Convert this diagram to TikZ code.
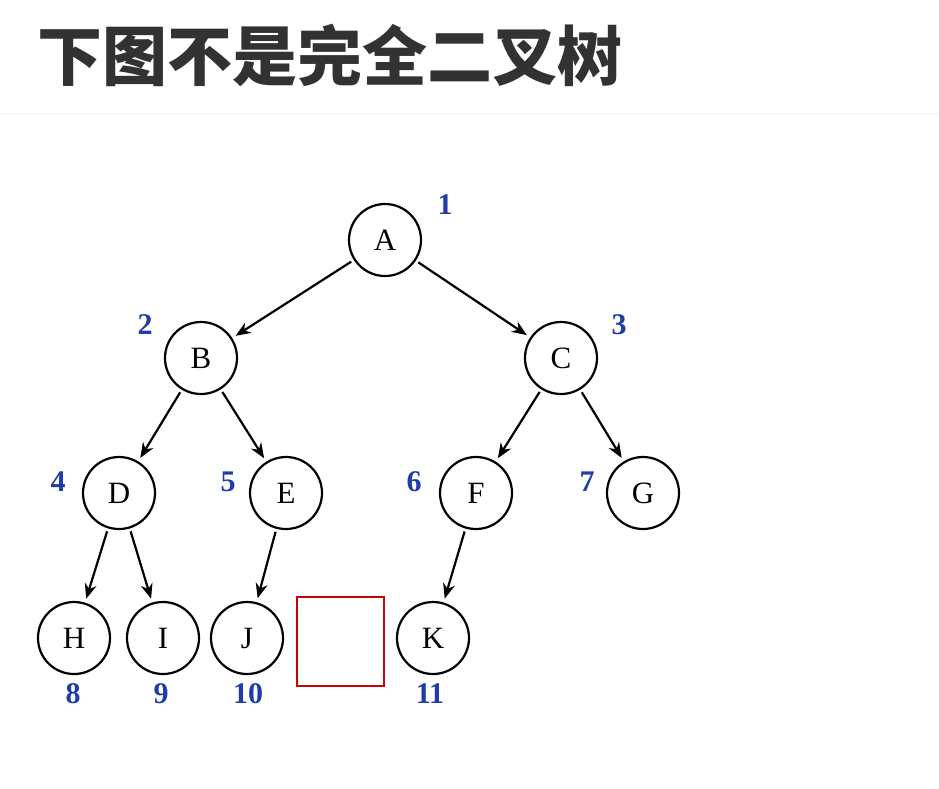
\documentclass[tikz,border=0pt]{standalone}
\usepackage{fontspec}
\newfontfamily\cjk{Noto Sans CJK SC}
\newfontfamily\lserif{Liberation Serif}
\usetikzlibrary{arrows.meta}
\definecolor{numblue}{RGB}{30,60,170}
\definecolor{titlegray}{RGB}{50,50,50}
\tikzset{x=1pt,y=-1pt,
 tnode/.style={circle,draw,line width=2.2pt,minimum size=72pt,inner sep=0pt,font=\lserif\fontsize{31}{31}\selectfont},
 num/.style={text=numblue,font=\lserif\fontsize{30}{30}\selectfont\bfseries},
 edge/.style={line width=2.2pt,shorten <=3pt,shorten >=4pt,-{Stealth[length=15pt,width=12pt]}}}
\begin{document}
\begin{tikzpicture}
\useasboundingbox (0,0) rectangle (939,788);
\node[anchor=west,text=titlegray,font=\cjk\bfseries\fontsize{65}{65}\selectfont] (title) at (34,55) {下图不是完全二叉树};
\draw[gray!12,line width=1pt] (0,113) -- (939,113);
\node[tnode] (A) at (385,240) {A};
\node[tnode] (B) at (201,358) {B};
\node[tnode] (C) at (561,358) {C};
\node[tnode] (D) at (119,493) {D};
\node[tnode] (E) at (286,493) {E};
\node[tnode] (F) at (476,493) {F};
\node[tnode] (G) at (643,493) {G};
\node[tnode] (H) at (74,638) {H};
\node[tnode] (I) at (163,638) {I};
\node[tnode] (J) at (247,638) {J};
\node[tnode] (K) at (433,638) {K};
\draw[red!80!black,line width=2pt] (297,597) rectangle (384,686);
\foreach \a/\b in {A/B,A/C,B/D,B/E,C/F,C/G,D/H,D/I,E/J,F/K}
  \draw[edge] (\a) -- (\b);
\node[num] (n1) at (445,205) {1};
\node[num] (n2) at (145,325) {2};
\node[num] (n3) at (619,325) {3};
\node[num] (n4) at (58,482) {4};
\node[num] (n5) at (228,482) {5};
\node[num] (n6) at (414,482) {6};
\node[num] (n7) at (587,482) {7};
\node[num] (n8) at (73,694) {8};
\node[num] (n9) at (161,694) {9};
\node[num] (n10) at (248,694) {10};
\node[num] (n11) at (430,694) {11};
\end{tikzpicture}
\end{document}
